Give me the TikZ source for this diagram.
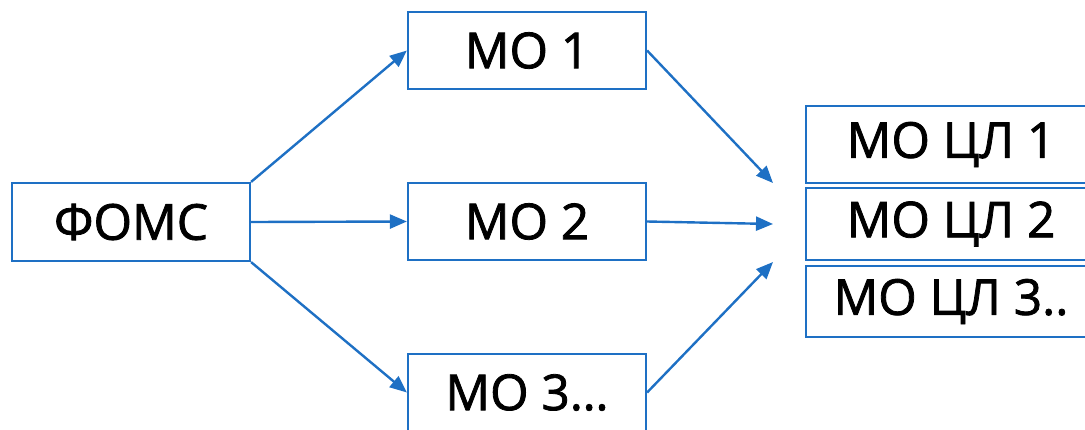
\documentclass[tikz,border=0pt]{standalone}
\usepackage{fontspec}
\setmainfont{Open Sans}
\newfontfamily\labelfont{Open Sans}[FakeBold=1.6]
\usetikzlibrary{arrows.meta}
\definecolor{boxblue}{RGB}{30,112,196}
\begin{document}
\begin{tikzpicture}[x=1pt,y=-1pt,
  box/.style={draw=boxblue,line width=2.2pt,fill=white,inner sep=0pt,font=\labelfont\fontsize{49.5}{52}\selectfont},
  conn/.style={draw=boxblue,line width=2.4pt,-{Triangle[length=17pt,width=14pt]}}]
\useasboundingbox (0,0) rectangle (1085,429);
\clip (0,0) rectangle (1085,429);
\node[box,minimum width=238pt,minimum height=78pt] (f) at (131,222) {ФОМС};
\node[box,minimum width=238pt,minimum height=77pt] (m1) at (527,50.5) {МО 1};
\node[box,minimum width=238pt,minimum height=77pt] (m2) at (527,221.5) {МО 2};
\node[box,minimum width=238pt,minimum height=77pt] (m3) at (527,392.5) {МО 3…};
\node[box,minimum width=290pt,minimum height=77pt] (c1) at (951,144.5) {МО ЦЛ 1};
\node[box,minimum width=290pt,minimum height=72pt] (c2) at (951,224) {МО ЦЛ 2};
\node[box,minimum width=290pt,minimum height=71pt] (c3) at (951,301.5) {МО ЦЛ 3..};
\coordinate (t1) at (773,183);
\coordinate (t2) at (773,224);
\coordinate (t3) at (773,262);
\draw[conn] (f.north east) -- (m1.west);
\draw[conn] (f.east) -- (m2.west);
\draw[conn] (f.south east) -- (m3.west);
\draw[conn] (m1.east) -- (t1);
\draw[conn] (m2.east) -- (t2);
\draw[conn] (m3.east) -- (t3);
\end{tikzpicture}
\end{document}
